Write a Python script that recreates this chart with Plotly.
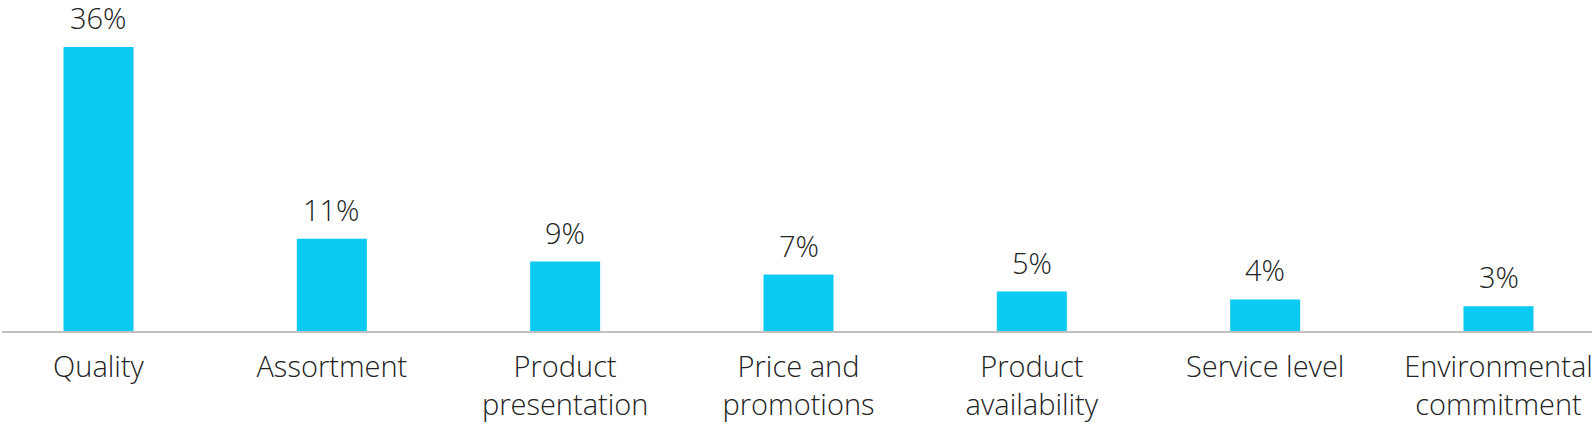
import plotly.graph_objects as go

categories = ["Quality", "Assortment", "Product<br>presentation", "Price and<br>promotions",
              "Product<br>availability", "Service level", "Environmental<br>commitment"]
values = [36.0, 11.7, 8.8, 7.15, 5.0, 4.0, 3.15]
labels = ["36%", "11%", "9%", "7%", "5%", "4%", "3%"]

BAR = "#0ACAF2"
TXT = "#222222"
FONT = "Open Sans"
FSIZE = 29

fig = go.Figure(go.Bar(x=categories, y=values, marker=dict(color=BAR, line=dict(width=0)),
                       width=0.3, hoverinfo="skip"))

for c, v, t in zip(categories, values, labels):
    fig.add_annotation(x=c, y=v, text=t, showarrow=False, yanchor="bottom", yshift=10,
                       borderpad=0, borderwidth=0,
                       font=dict(family=FONT, size=FSIZE, color=TXT, weight=300))

fig.update_layout(
    width=1595, height=426,
    margin=dict(l=2, r=3, t=10, b=95, autoexpand=False),
    paper_bgcolor="white", plot_bgcolor="white",
    showlegend=False,
    font=dict(family=FONT, size=FSIZE, color=TXT, weight=300),
)
fig.update_xaxes(range=[-0.4136, 6.4007], showline=True, linecolor="#C0C0C0", linewidth=2,
                 ticks="", showgrid=False, automargin=False,
                 tickfont=dict(family=FONT, size=FSIZE, color=TXT, weight=300),
                 ticklabelstandoff=9, tickangle=0)
fig.update_yaxes(range=[0, 40.69], visible=False, showgrid=False, zeroline=False, automargin=False)

fig.write_html("out.html", config={"displayModeBar": False},
               post_script="document.body.style.margin='0';")
